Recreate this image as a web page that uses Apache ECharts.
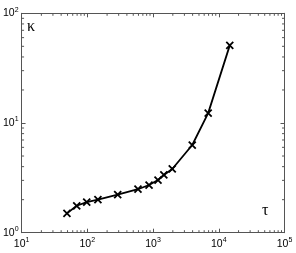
<!DOCTYPE html>
<html><head><meta charset="utf-8">
<script src="https://cdn.jsdelivr.net/npm/echarts@6/dist/echarts.min.js"></script>
<style>html,body{margin:0;padding:0;background:#fff}#c{width:296px;height:253px}</style>
</head><body><div id="c"></div>
<script>
const tau = [49, 69, 98, 145, 290, 590, 870, 1190, 1460, 1960, 3950, 6900, 14700];
const kappa = [1.50, 1.76, 1.90, 2.00, 2.22, 2.49, 2.72, 3.02, 3.36, 3.81, 6.30, 12.3, 51];
const xMinor = [20,30,40,50,60,70,80,90,200,300,400,500,600,700,800,900,2000,3000,4000,5000,6000,7000,8000,9000,20000,30000,40000,50000,60000,70000,80000,90000];
const yMinor = [2,3,4,5,6,7,8,9,20,30,40,50,60,70,80,90];
const xLabel = 'τ', yLabel = 'κ';

const axisColor = '#555';
const fmt = v => '{b|10}{s|' + Math.round(Math.log10(v)) + '}';
const rich = {b:{fontSize:10.5,fontFamily:'Liberation Sans',color:'#000'},s:{fontSize:7,fontFamily:'Liberation Sans',color:'#000',padding:[0,0,7,0]}};
const chart = echarts.init(document.getElementById('c'));
function minorX(params, api){
  const cs = params.coordSys;
  const x = api.coord([api.value(0), 1])[0];
  const b = cs.y + cs.height, t = cs.y;
  return {type:'group',children:[
    {type:'line',shape:{x1:x,y1:b,x2:x,y2:b-2.5},style:{stroke:axisColor,lineWidth:1}},
    {type:'line',shape:{x1:x,y1:t,x2:x,y2:t+2.5},style:{stroke:axisColor,lineWidth:1}}]};
}
function minorY(params, api){
  const cs = params.coordSys;
  const y = api.coord([100, api.value(0)])[1];
  const l = cs.x, r = cs.x + cs.width;
  return {type:'group',children:[
    {type:'line',shape:{x1:l,y1:y,x2:l+2.5,y2:y},style:{stroke:axisColor,lineWidth:1}},
    {type:'line',shape:{x1:r,y1:y,x2:r-2.5,y2:y},style:{stroke:axisColor,lineWidth:1}}]};
}
const baseAxis = {type:'log',logBase:10,
  axisLine:{show:true,lineStyle:{color:axisColor,width:1}},
  axisTick:{show:true,inside:true,length:4,lineStyle:{color:axisColor}},
  splitLine:{show:false}, minorTick:{show:false}};
chart.setOption({
  animation:false,
  grid:{left:20.5,right:11.5,top:13.3,bottom:20.3,containLabel:false},
  xAxis:[
    Object.assign({}, baseAxis, {min:10,max:100000,position:'bottom',
      axisLabel:{formatter:fmt,rich:rich,margin:4}}),
    Object.assign({}, baseAxis, {min:10,max:100000,position:'top',axisLabel:{show:false}})
  ],
  yAxis:[
    Object.assign({}, baseAxis, {min:1,max:100,position:'left',
      axisLabel:{formatter:fmt,rich:rich,margin:3}}),
    Object.assign({}, baseAxis, {min:1,max:100,position:'right',axisLabel:{show:false}})
  ],
  series:[
    {type:'line',data:tau.map((t,i)=>[t,kappa[i]]),
      lineStyle:{color:'#000',width:1.8},
      symbol:'path://M0,0L10,10M10,0L0,10',symbolSize:7,
      itemStyle:{color:'none',borderColor:'#000',borderWidth:1.8},z:5},
    {type:'custom',renderItem:minorX,data:xMinor.map(v=>[v]),silent:true},
    {type:'custom',renderItem:minorY,data:yMinor.map(v=>[v]),silent:true}
  ],
  graphic:[
    {type:'text',left:27,top:19,style:{text:yLabel,fontSize:16,fontFamily:'Liberation Serif',fill:'#000'}},
    {type:'text',left:262,top:203,style:{text:xLabel,fontSize:16,fontFamily:'Liberation Serif',fill:'#000'}}
  ]
});
</script></body></html>
